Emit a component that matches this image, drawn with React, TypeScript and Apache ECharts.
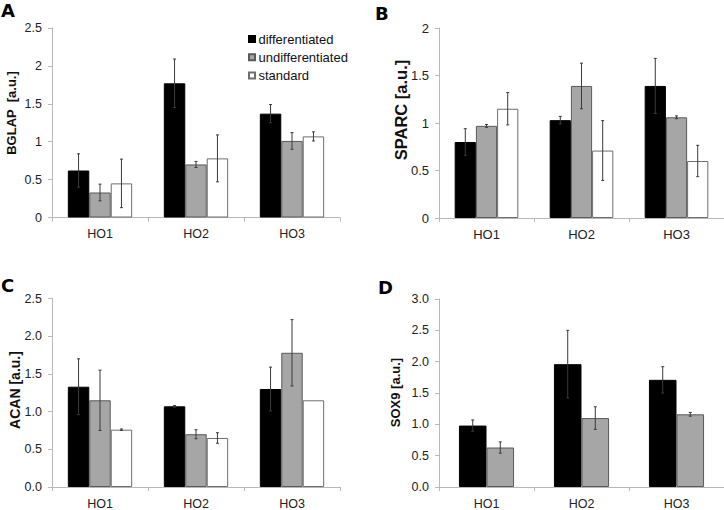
import React, { useEffect, useRef } from "react";
import * as echarts from "echarts";

const categories = ["HO1", "HO2", "HO3"];
const seriesNames = ["differentiated", "undifferentiated", "standard"];

// Panel A – BGLAP
const bglapDiff = [0.62, 1.77, 1.37];
const bglapDiffErr = [0.22, 0.32, 0.12];
const bglapUndiff = [0.33, 0.7, 1.01];
const bglapUndiffErr = [0.11, 0.04, 0.11];
const bglapStd = [0.45, 0.78, 1.07];
const bglapStdErr = [0.32, 0.31, 0.06];

// Panel B – SPARC
const sparcDiff = [0.8, 1.03, 1.39];
const sparcDiffErr = [0.14, 0.04, 0.29];
const sparcUndiff = [0.97, 1.39, 1.06];
const sparcUndiffErr = [0.015, 0.24, 0.015];
const sparcStd = [1.15, 0.71, 0.6];
const sparcStdErr = [0.17, 0.315, 0.165];

// Panel C – ACAN
const acanDiff = [1.33, 1.07, 1.3];
const acanDiffErr = [0.37, 0.01, 0.29];
const acanUndiff = [1.15, 0.7, 1.78];
const acanUndiffErr = [0.4, 0.06, 0.44];
const acanStd = [0.76, 0.65, 1.15];
const acanStdErr = [0.01, 0.07, 0];

// Panel D – SOX9
const sox9Diff = [0.98, 1.96, 1.71];
const sox9DiffErr = [0.09, 0.54, 0.21];
const sox9Undiff = [0.63, 1.1, 1.16];
const sox9UndiffErr = [0.09, 0.18, 0.03];

const FONT = "Liberation Sans";

const barStyles = [
  { color: "#000000", borderColor: "#000000", borderWidth: 1 },
  { color: "#a6a6a6", borderColor: "#5a5a5a", borderWidth: 1 },
  { color: "#ffffff", borderColor: "#6e6e6e", borderWidth: 1 },
];

type Panel = {
  grid: any;
  max: number;
  decimals: boolean;
  gap: number;
  values: number[][];
  errors: number[][];
  labelSize: number;
};

const panels: Panel[] = [
  {
    grid: { left: 52, top: 28, width: 288, height: 189.5 },
    max: 2.5,
    decimals: false,
    gap: 0.33,
    values: [bglapDiff, bglapUndiff, bglapStd],
    errors: [bglapDiffErr, bglapUndiffErr, bglapStdErr],
    labelSize: 12.5,
  },
  {
    grid: { left: 439, top: 28, width: 288, height: 190 },
    max: 2,
    decimals: false,
    gap: 0.33,
    values: [sparcDiff, sparcUndiff, sparcStd],
    errors: [sparcDiffErr, sparcUndiffErr, sparcStdErr],
    labelSize: 13,
  },
  {
    grid: { left: 52, top: 298.5, width: 288, height: 191 },
    max: 2.5,
    decimals: true,
    gap: 0.33,
    values: [acanDiff, acanUndiff, acanStd],
    errors: [acanDiffErr, acanUndiffErr, acanStdErr],
    labelSize: 12.5,
  },
  {
    grid: { left: 439, top: 299, width: 288, height: 190.5 },
    max: 3,
    decimals: true,
    gap: 0.42,
    values: [sox9Diff, sox9Undiff],
    errors: [sox9DiffErr, sox9UndiffErr],
    labelSize: 12.5,
  },
];

function buildOption() {
  const grid: any[] = [];
  const xAxis: any[] = [];
  const yAxis: any[] = [];
  const series: any[] = [];

  panels.forEach((p, pi) => {
    grid.push({ ...p.grid, containLabel: false });
    xAxis.push({
      type: "category",
      gridIndex: pi,
      data: categories,
      axisLine: { show: true, lineStyle: { color: "#b8b8b8", width: 1 } },
      axisTick: { show: true, length: 4, lineStyle: { color: "#b8b8b8" } },
      axisLabel: {
        color: "#222",
        fontFamily: FONT,
        fontSize: p.labelSize,
        margin: 10,
      },
    });
    yAxis.push({
      type: "value",
      gridIndex: pi,
      min: 0,
      max: p.max,
      interval: 0.5,
      splitLine: { show: false },
      axisLine: { show: true, lineStyle: { color: "#b8b8b8", width: 1 } },
      axisTick: { show: true, length: 4, lineStyle: { color: "#b8b8b8" } },
      axisLabel: {
        color: "#222",
        fontFamily: FONT,
        fontSize: p.labelSize,
        margin: 10,
        formatter: (v: number) => (p.decimals ? v.toFixed(1) : String(v)),
      },
    });

    const n = p.values.length;
    p.values.forEach((vals, si) => {
      series.push({
        type: "bar",
        name: seriesNames[si],
        xAxisIndex: pi,
        yAxisIndex: pi,
        data: vals,
        barGap: "0%",
        barCategoryGap: Math.round(p.gap * 100) + "%",
        itemStyle: barStyles[si],
        emphasis: { disabled: true },
      });
    });

    const errData: number[][] = [];
    p.values.forEach((vals, si) => {
      vals.forEach((v, ci) => {
        const e = p.errors[si][ci];
        if (e > 0) errData.push([ci, v - e, v + e, si]);
      });
    });
    const gap = p.gap;
    series.push({
      type: "custom",
      xAxisIndex: pi,
      yAxisIndex: pi,
      z: 5,
      silent: true,
      data: errData,
      renderItem: (params: any, api: any) => {
        const ci = api.value(0);
        const lo = api.value(1);
        const hi = api.value(2);
        const si = api.value(3);
        const band = api.size([1, 0])[0];
        const barW = (band * (1 - gap)) / n;
        const pLo = api.coord([ci, lo]);
        const pHi = api.coord([ci, hi]);
        const x = pLo[0] + (si - (n - 1) / 2) * barW;
        const style = { stroke: "#3a3a3a", lineWidth: 1 };
        const cap = 1.5;
        return {
          type: "group",
          children: [
            { type: "line", shape: { x1: x, y1: pLo[1], x2: x, y2: pHi[1] }, style },
            { type: "line", shape: { x1: x - cap, y1: pLo[1], x2: x + cap, y2: pLo[1] }, style },
            { type: "line", shape: { x1: x - cap, y1: pHi[1], x2: x + cap, y2: pHi[1] }, style },
          ],
        };
      },
    });
  });

  const letterStyle = (text: string) => ({
    text,
    fill: "#000",
    fontFamily: "DejaVu Sans",
    fontWeight: "bold",
    fontSize: 18,
    align: "left",
    verticalAlign: "middle",
  });
  const nameStyle = (text: string, size: number) => ({
    text,
    fill: "#111",
    fontFamily: FONT,
    fontWeight: "bold",
    fontSize: size,
    align: "center",
    verticalAlign: "middle",
  });

  const graphic = [
    { type: "text", x: 1, y: 10.5, style: letterStyle("A") },
    { type: "text", x: 375, y: 13.7, style: letterStyle("B") },
    { type: "text", x: 1, y: 285, style: letterStyle("C") },
    { type: "text", x: 378, y: 287, style: letterStyle("D") },
    { type: "text", x: 11.5, y: 113, rotation: Math.PI / 2, style: nameStyle("BGLAP  [a.u.]", 13) },
    { type: "text", x: 401, y: 110, rotation: Math.PI / 2, style: nameStyle("SPARC [a.u.]", 16.5) },
    { type: "text", x: 15, y: 390, rotation: Math.PI / 2, style: nameStyle("ACAN [a.u.]", 14) },
    { type: "text", x: 395.5, y: 392.5, rotation: Math.PI / 2, style: nameStyle("SOX9 [a.u.]", 13) },
  ];

  return {
    animation: false,
    backgroundColor: "#ffffff",
    grid,
    xAxis,
    yAxis,
    series,
    graphic,
    legend: {
      show: true,
      orient: "vertical",
      left: 243,
      top: 27,
      itemWidth: 6,
      itemHeight: 6,
      itemGap: 4.3,
      icon: "rect",
      selectedMode: false,
      data: seriesNames,
      textStyle: {
        fontFamily: FONT,
        fontSize: 13,
        lineHeight: 14,
        color: "#111",
        padding: [0, 0, 0, -1.5],
      },
    },
  };
}

export default function App() {
  const ref = useRef<HTMLDivElement>(null);
  useEffect(() => {
    if (!ref.current) return;
    const chart = echarts.init(ref.current, undefined, { renderer: "svg" });
    chart.setOption(buildOption() as any);
    return () => chart.dispose();
  }, []);
  return (
    <div
      ref={ref}
      style={{ position: "fixed", left: 0, top: 0, width: 724, height: 510, background: "#fff" }}
    />
  );
}
